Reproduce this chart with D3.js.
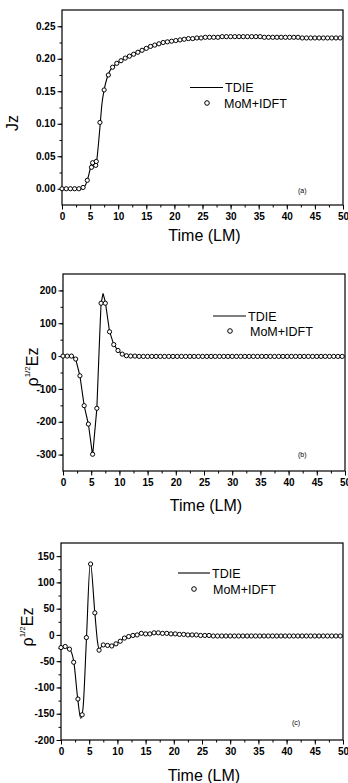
<!DOCTYPE html>
<html>
<head>
<meta charset="utf-8">
<script src="https://cdn.jsdelivr.net/npm/d3@7/dist/d3.min.js"></script>
<style>
body { margin: 0; background: #fff; }
svg text { font-family: Arial, "Liberation Sans", sans-serif; fill: #000; }
.tick text { font-weight: bold; font-size: 10px; }
</style>
</head>
<body>
<div id="chart"></div>
<script>
// MoM+IDFT sample times (LM), same for the three panels
var mom_time = [0, 0.75, 1.5, 2.25, 3, 3.75, 4.5, 5.25, 6, 6.75, 7.5, 8.25, 9, 9.75, 10.5, 11.25, 12, 12.75, 13.5, 14.25,
    15, 15.75, 16.5, 17.25, 18, 18.75, 19.5, 20.25, 21, 21.75, 22.5, 23.25, 24, 24.75, 25.5, 26.25, 27, 27.75, 28.5, 29.25,
    30, 30.75, 31.5, 32.25, 33, 33.75, 34.5, 35.25, 36, 36.75, 37.5, 38.25, 39, 39.75, 40.5, 41.25, 42, 42.75, 43.5, 44.25,
    45, 45.75, 46.5, 47.25, 48, 48.75, 49.5]

// (a) Jz
var mom_a = [0, 0, 0, 0, 0, 0.002, 0.013, 0.033, 0.036, 0.102, 0.152, 0.175, 0.187, 0.193, 0.197, 0.201, 0.204, 0.207, 0.210, 0.213,
    0.216, 0.219, 0.221, 0.223, 0.225, 0.226, 0.227, 0.228, 0.229, 0.230, 0.231, 0.231, 0.232, 0.232, 0.233, 0.233, 0.233, 0.233, 0.234, 0.234,
    0.234, 0.234, 0.234, 0.234, 0.234, 0.234, 0.234, 0.234, 0.233, 0.233, 0.233, 0.233, 0.233, 0.233, 0.233, 0.233, 0.233, 0.232, 0.232, 0.232,
    0.232, 0.232, 0.232, 0.232, 0.232, 0.232, 0.232]
var mom_a_extra_t = [5.45, 6.1]
var mom_a_extra_v = [0.040, 0.042]
var tdie_a_t = [0, 3.5, 4, 4.5, 5, 5.3, 5.6, 5.9, 6.2, 6.5, 6.8, 7.1, 7.5, 8, 8.5, 9, 10, 11, 12, 13, 14, 15, 16, 18, 20, 22, 25, 28, 30, 35, 40, 45, 50]
var tdie_a_v = [0, 0, 0.003, 0.013, 0.030, 0.040, 0.039, 0.035, 0.045, 0.070, 0.100, 0.130, 0.152, 0.170, 0.181, 0.187, 0.194, 0.200, 0.205, 0.209,
    0.213, 0.217, 0.220, 0.225, 0.228, 0.230, 0.232, 0.233, 0.234, 0.234, 0.233, 0.232, 0.232]
var y_ticks_a = [0, 0.05, 0.10, 0.15, 0.20, 0.25]

// (b) rho^1/2 Ez
var mom_b = [0, 0, 0, -9, -60, -151, -207, -299, -159, 161, 161, 74, 35, 17, 6, 1, 0, 0, -1, -1,
    -1, -1, -1, -1, -1, -1, -1, -1, -1, -1, -1, -1, -1, -1, -1, -1, -1, -1, -1, -1,
    -1, -1, -1, -1, -1, -1, -1, -1, -1, -1, -1, -1, -1, -1, -1, -1, -1, -1, -1, -1,
    -1, -1, -1, -1, -1, -1, -1]
var tdie_b_t = [0, 1.5, 2.25, 3, 3.75, 4.5, 5.25, 6, 6.5, 6.75, 7.1, 7.5, 8.25, 9, 9.75, 10.5, 11.25, 12, 20, 50]
var tdie_b_v = [0, 0, -9, -60, -151, -207, -303, -160, 60, 160, 191, 165, 75, 35, 17, 6, 1, 0, -1, -1]
var y_ticks_b = [-300, -200, -100, 0, 100, 200]

// (c) rho^1/2 Ez
var mom_c = [-24, -22, -27, -52, -122, -152, -5, 135, 42, -29, -19, -20, -21, -17, -12, -6, -3, -1, 0, 3,
    2, 2, 4, 4, 3, 3, 2, 2, 1, 1, 0, 0, 0, -1, -1, -1, -2, -2, -2, -2,
    -2, -2, -2, -2, -2, -2, -2, -2, -2, -2, -2, -2, -2, -2, -2, -2, -2, -2, -2, -2,
    -2, -2, -2, -2, -2, -2, -2]
var tdie_c_t = [0, 0.75, 1.5, 2.25, 3, 3.5, 3.9, 4.5, 5.2, 6, 6.5, 6.75, 7.2, 7.5, 8.25, 9, 9.75, 10.5, 11.25, 12, 13, 14, 15, 16, 17, 18, 20, 22, 24, 26, 28, 35, 40, 45, 50]
var tdie_c_v = [-25, -24, -27, -50, -125, -159, -140, -10, 138, 42, -15, -27, -22, -18, -20, -20, -17, -11, -6, -3, 0, 2, 3, 3, 4, 3, 2, 1, 0, -1, -2, -2, -2, -2, -2]
var y_ticks_c = [-200, -150, -100, -50, 0, 50, 100, 150]

var x_ticks = [0, 5, 10, 15, 20, 25, 30, 35, 40, 45, 50]

// plain hyphen for negatives, like the original plot
function int_fmt(d) { return String(d) }

var svg = d3.select('#chart').append('svg')
    .attr('width', 348)
    .attr('height', 783)

draw_panel({
    left: 62, right: 343, top: 10, bottom: 205,
    ydomain: [-0.025, 0.275], yticks: y_ticks_a, yminor: 0.025, yfmt: d3.format('.2f'),
    tdie_t: tdie_a_t, tdie_v: tdie_a_v, curve: d3.curveMonotoneX,
    mom_t: mom_time.concat(mom_a_extra_t), mom_v: mom_a.concat(mom_a_extra_v),
    xlabel_y: 241, ylabel: 'jz', ylabel_x: 18, ylabel_y: 123,
    legend: {x1: 190, x2: 223, y: 87.5, cx: 207, cy: 103, tx1: 225, tx2: 224},
    tag: '(a)', tag_x: 298, tag_y: 193
})

draw_panel({
    left: 63, right: 345, top: 274, bottom: 471,
    ydomain: [-350, 250], yticks: y_ticks_b, yminor: 50, yfmt: int_fmt,
    tdie_t: tdie_b_t, tdie_v: tdie_b_v, curve: d3.curveLinear,
    mom_t: mom_time, mom_v: mom_b,
    xlabel_y: 511, ylabel: 'ez', ylabel_x: 38, ylabel_y: 367,
    legend: {x1: 213, x2: 246, y: 316, cx: 230, cy: 331, tx1: 248, tx2: 250},
    tag: '(b)', tag_x: 298, tag_y: 457
})

draw_panel({
    left: 61, right: 343, top: 543, bottom: 740,
    ydomain: [-200, 175], yticks: y_ticks_c, yminor: 25, yfmt: int_fmt,
    tdie_t: tdie_c_t, tdie_v: tdie_c_v, curve: d3.curveMonotoneX,
    mom_t: mom_time, mom_v: mom_c,
    xlabel_y: 781, ylabel: 'ez', ylabel_x: 33, ylabel_y: 627,
    legend: {x1: 178, x2: 210, y: 573, cx: 194, cy: 589, tx1: 212, tx2: 213},
    tag: '(c)', tag_x: 292, tag_y: 725
})

function draw_panel(p) {
    var x = d3.scaleLinear().domain([0, 50]).range([p.left, p.right])
    var y = d3.scaleLinear().domain(p.ydomain).range([p.bottom, p.top])
    var g = svg.append('g')

    // frame
    g.append('rect')
        .attr('x', p.left).attr('y', p.top)
        .attr('width', p.right - p.left).attr('height', p.bottom - p.top)
        .attr('fill', 'none').attr('stroke', '#000').attr('stroke-width', 1.2)

    // minor ticks
    var xminor = d3.range(0, 50.01, 2.5)
    var yminor = d3.range(p.yticks[0], p.ydomain[1], p.yminor)
    g.append('g')
        .attr('transform', 'translate(0,' + p.bottom + ')')
        .call(d3.axisBottom(x).tickValues(xminor).tickSize(2.5).tickFormat(''))
    g.append('g')
        .attr('transform', 'translate(' + p.left + ',0)')
        .call(d3.axisLeft(y).tickValues(yminor).tickSize(2.5).tickFormat(''))

    // major ticks
    g.append('g')
        .attr('transform', 'translate(0,' + p.bottom + ')')
        .call(d3.axisBottom(x).tickValues(x_ticks).tickSize(4.5).tickPadding(3).tickFormat(int_fmt))
    g.append('g')
        .attr('transform', 'translate(' + p.left + ',0)')
        .call(d3.axisLeft(y).tickValues(p.yticks).tickSize(4.5).tickPadding(2).tickFormat(p.yfmt))
    g.selectAll('.domain').remove()
    g.selectAll('.tick line').attr('stroke', '#000').attr('stroke-width', 1)
    g.selectAll('.tick text').attr('font-family', 'Arial, "Liberation Sans", sans-serif')

    // TDIE line
    var pts = p.tdie_t.map(function (t, i) { return [t, p.tdie_v[i]] })
    g.append('path')
        .datum(pts)
        .attr('fill', 'none')
        .attr('stroke', '#000')
        .attr('stroke-width', 1.1)
        .attr('d', d3.line()
            .x(function (d) { return x(d[0]) })
            .y(function (d) { return y(d[1]) })
            .curve(p.curve))

    // MoM+IDFT circles
    g.append('g')
        .selectAll('circle')
        .data(p.mom_t.map(function (t, i) { return [t, p.mom_v[i]] }))
        .enter()
        .append('circle')
        .attr('cx', function (d) { return x(d[0]) })
        .attr('cy', function (d) { return y(d[1]) })
        .attr('r', 2.1)
        .attr('fill', '#fff')
        .attr('stroke', '#000')
        .attr('stroke-width', 1)

    // x title
    g.append('text')
        .attr('x', (p.left + p.right) / 2 + 2)
        .attr('y', p.xlabel_y)
        .attr('text-anchor', 'middle')
        .attr('font-size', '16px')
        .text('Time (LM)')

    // y title
    var yt = g.append('text')
        .attr('transform', 'translate(' + p.ylabel_x + ',' + p.ylabel_y + ') rotate(-90)')
        .attr('text-anchor', 'middle')
        .attr('font-size', '16px')
    if (p.ylabel == 'jz') {
        yt.text('Jz')
    } else {
        yt.append('tspan').text('ρ')
        yt.append('tspan').attr('font-size', '8px').attr('dy', -8).text('1/2')
        yt.append('tspan').attr('dy', 8).text('Ez')
    }

    // legend
    var L = p.legend
    g.append('line')
        .attr('x1', L.x1).attr('x2', L.x2).attr('y1', L.y).attr('y2', L.y)
        .attr('stroke', '#000').attr('stroke-width', 1.1)
    g.append('text')
        .attr('x', L.tx1).attr('y', L.y + 4.5)
        .attr('font-size', '12.5px')
        .text('TDIE')
    g.append('circle')
        .attr('cx', L.cx).attr('cy', L.cy).attr('r', 2.3)
        .attr('fill', '#fff').attr('stroke', '#000').attr('stroke-width', 1)
    g.append('text')
        .attr('x', L.tx2).attr('y', L.cy + 4.5)
        .attr('font-size', '12.5px')
        .text('MoM+IDFT')

    g.append('text')
        .attr('x', p.tag_x).attr('y', p.tag_y)
        .attr('font-size', '7px')
        .text(p.tag)
}
</script>
</body>
</html>
